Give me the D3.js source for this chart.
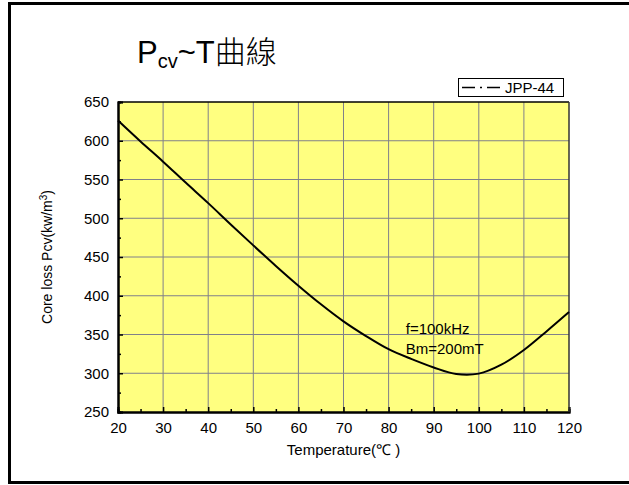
<!DOCTYPE html>
<html>
<head>
<meta charset="utf-8">
<script src="https://cdn.jsdelivr.net/npm/d3@7"></script>
<style>
body { margin: 0; background: #fff; }
text { font-family: "Liberation Sans", Arial, sans-serif; fill: #000; }
</style>
</head>
<body>
<div id="chart"></div>
<script>
// data
var temps = [20, 25, 30, 35, 40, 45, 50, 55, 60, 65, 70, 75, 80, 85, 90, 95, 100, 105, 110, 115, 120];
var pcv = [626, 599, 573, 546, 519.5, 492, 465, 438.5, 413, 389, 367, 348, 331, 318.5, 307.5, 299, 299.5, 311, 330, 354, 379];
var xTicks = [20, 30, 40, 50, 60, 70, 80, 90, 100, 110, 120];
var yTicks = [250, 300, 350, 400, 450, 500, 550, 600, 650];
var seriesName = "JPP-44";
var notes = ["f=100kHz", "Bm=200mT"];

var W = 629, H = 485;
var m = {left: 118, right: 60, top: 102, bottom: 73};
var pw = W - m.left - m.right, ph = H - m.top - m.bottom;

var svg = d3.select("#chart").append("svg")
    .attr("width", W)
    .attr("height", H);

// outer frame (right side runs off the page)
svg.append("rect").attr("x", 9.5).attr("y", 3.5).attr("width", 700).attr("height", 479)
    .attr("fill", "none").attr("stroke", "#000").attr("stroke-width", 3);

var x = d3.scaleLinear().domain([20, 120]).range([0, pw]);
var y = d3.scaleLinear().domain([250, 650]).range([ph, 0]);

var g = svg.append("g").attr("transform", "translate(" + m.left + "," + m.top + ")");

g.append("rect").attr("width", pw).attr("height", ph).attr("fill", "#ffff80");

// grid
g.selectAll(".vg").data(xTicks.slice(1, -1)).enter().append("line")
    .attr("x1", function(d) { return x(d); }).attr("x2", function(d) { return x(d); })
    .attr("y1", 0).attr("y2", ph)
    .attr("stroke", "#80808a").attr("stroke-width", 1);
g.selectAll(".hg").data(yTicks.slice(1, -1)).enter().append("line")
    .attr("y1", function(d) { return y(d); }).attr("y2", function(d) { return y(d); })
    .attr("x1", 0).attr("x2", pw)
    .attr("stroke", "#80808a").attr("stroke-width", 1);

// axes, ticks pointing inside
var xAxis = d3.axisBottom(x).tickValues(xTicks).tickSize(-5).tickPadding(10).tickFormat(d3.format("d"));
var xMinor = d3.axisBottom(x).tickValues(d3.range(25, 120, 10)).tickSize(-3).tickFormat("");
var yAxis = d3.axisLeft(y).tickValues(yTicks).tickSize(-5).tickPadding(9).tickFormat(d3.format("d"));
var yMinor = d3.axisLeft(y).tickValues(d3.range(275, 650, 50)).tickSize(-3).tickFormat("");

g.append("g").attr("transform", "translate(0," + ph + ")").call(xAxis);
g.append("g").attr("transform", "translate(0," + ph + ")").call(xMinor);
g.append("g").call(yAxis);
g.append("g").call(yMinor);

g.selectAll(".domain").attr("stroke", "#000").attr("stroke-width", 2);
g.selectAll(".tick line").attr("stroke", "#000").attr("stroke-width", 1.5);
g.selectAll(".tick text").attr("font-size", 15).attr("font-family", "Liberation Sans, Arial, sans-serif").attr("fill", "#000");

// top & right frame of plot
g.append("line").attr("x1", 0).attr("x2", pw).attr("y1", 0).attr("y2", 0).attr("stroke", "#000").attr("stroke-width", 1.5);
g.append("line").attr("x1", pw).attr("x2", pw).attr("y1", 0).attr("y2", ph).attr("stroke", "#333").attr("stroke-width", 1.5);

// curve
var line = d3.line()
    .x(function(d, i) { return x(temps[i]); })
    .y(function(d) { return y(d); })
    .curve(d3.curveCatmullRom.alpha(0.5));
g.append("path").datum(pcv).attr("d", line)
    .attr("fill", "none").attr("stroke", "#000").attr("stroke-width", 2);

// notes
g.selectAll(".note").data(notes).enter().append("text")
    .attr("x", x(83.8)).attr("y", function(d, i) { return y(351) + i * 20; })
    .attr("font-size", 15).text(function(d) { return d; });

// axis titles
svg.append("text").attr("x", m.left + pw / 2).attr("y", 455).attr("text-anchor", "middle")
    .attr("font-size", 15).text("Temperature(℃ )");

var yt = svg.append("text").attr("transform", "translate(52," + (m.top + ph / 2) + ") rotate(-90)")
    .attr("text-anchor", "middle").attr("font-size", 14);
yt.append("tspan").text("Core loss Pcv(kw/m");
yt.append("tspan").attr("baseline-shift", "super").attr("font-size", 10).text("3");
yt.append("tspan").text(")");

// title
var title = svg.append("text").attr("x", 137).attr("y", 63).attr("font-size", 31)
    .attr("font-family", "Liberation Sans, Noto Sans CJK TC, sans-serif");
title.append("tspan").text("P");
title.append("tspan").attr("dy", 5).attr("font-size", 20).text("cv");
title.append("tspan").attr("dy", -5).text("~T");
title.append("tspan").attr("font-family", "Noto Sans CJK TC").attr("font-weight", 300).text("曲線");

// legend
var lg = svg.append("g").attr("transform", "translate(458,78)");
lg.append("rect").attr("x", 0.5).attr("y", 0.5).attr("width", 105).attr("height", 18)
    .attr("fill", "#fff").attr("stroke", "#000").attr("stroke-width", 1);
lg.append("line").attr("x1", 4).attr("x2", 42).attr("y1", 9.5).attr("y2", 9.5)
    .attr("stroke", "#000").attr("stroke-width", 1.5).attr("stroke-dasharray", "13,5,2,5");
lg.append("text").attr("x", 47).attr("y", 15).attr("font-size", 15).text(seriesName);
</script>
</body>
</html>
